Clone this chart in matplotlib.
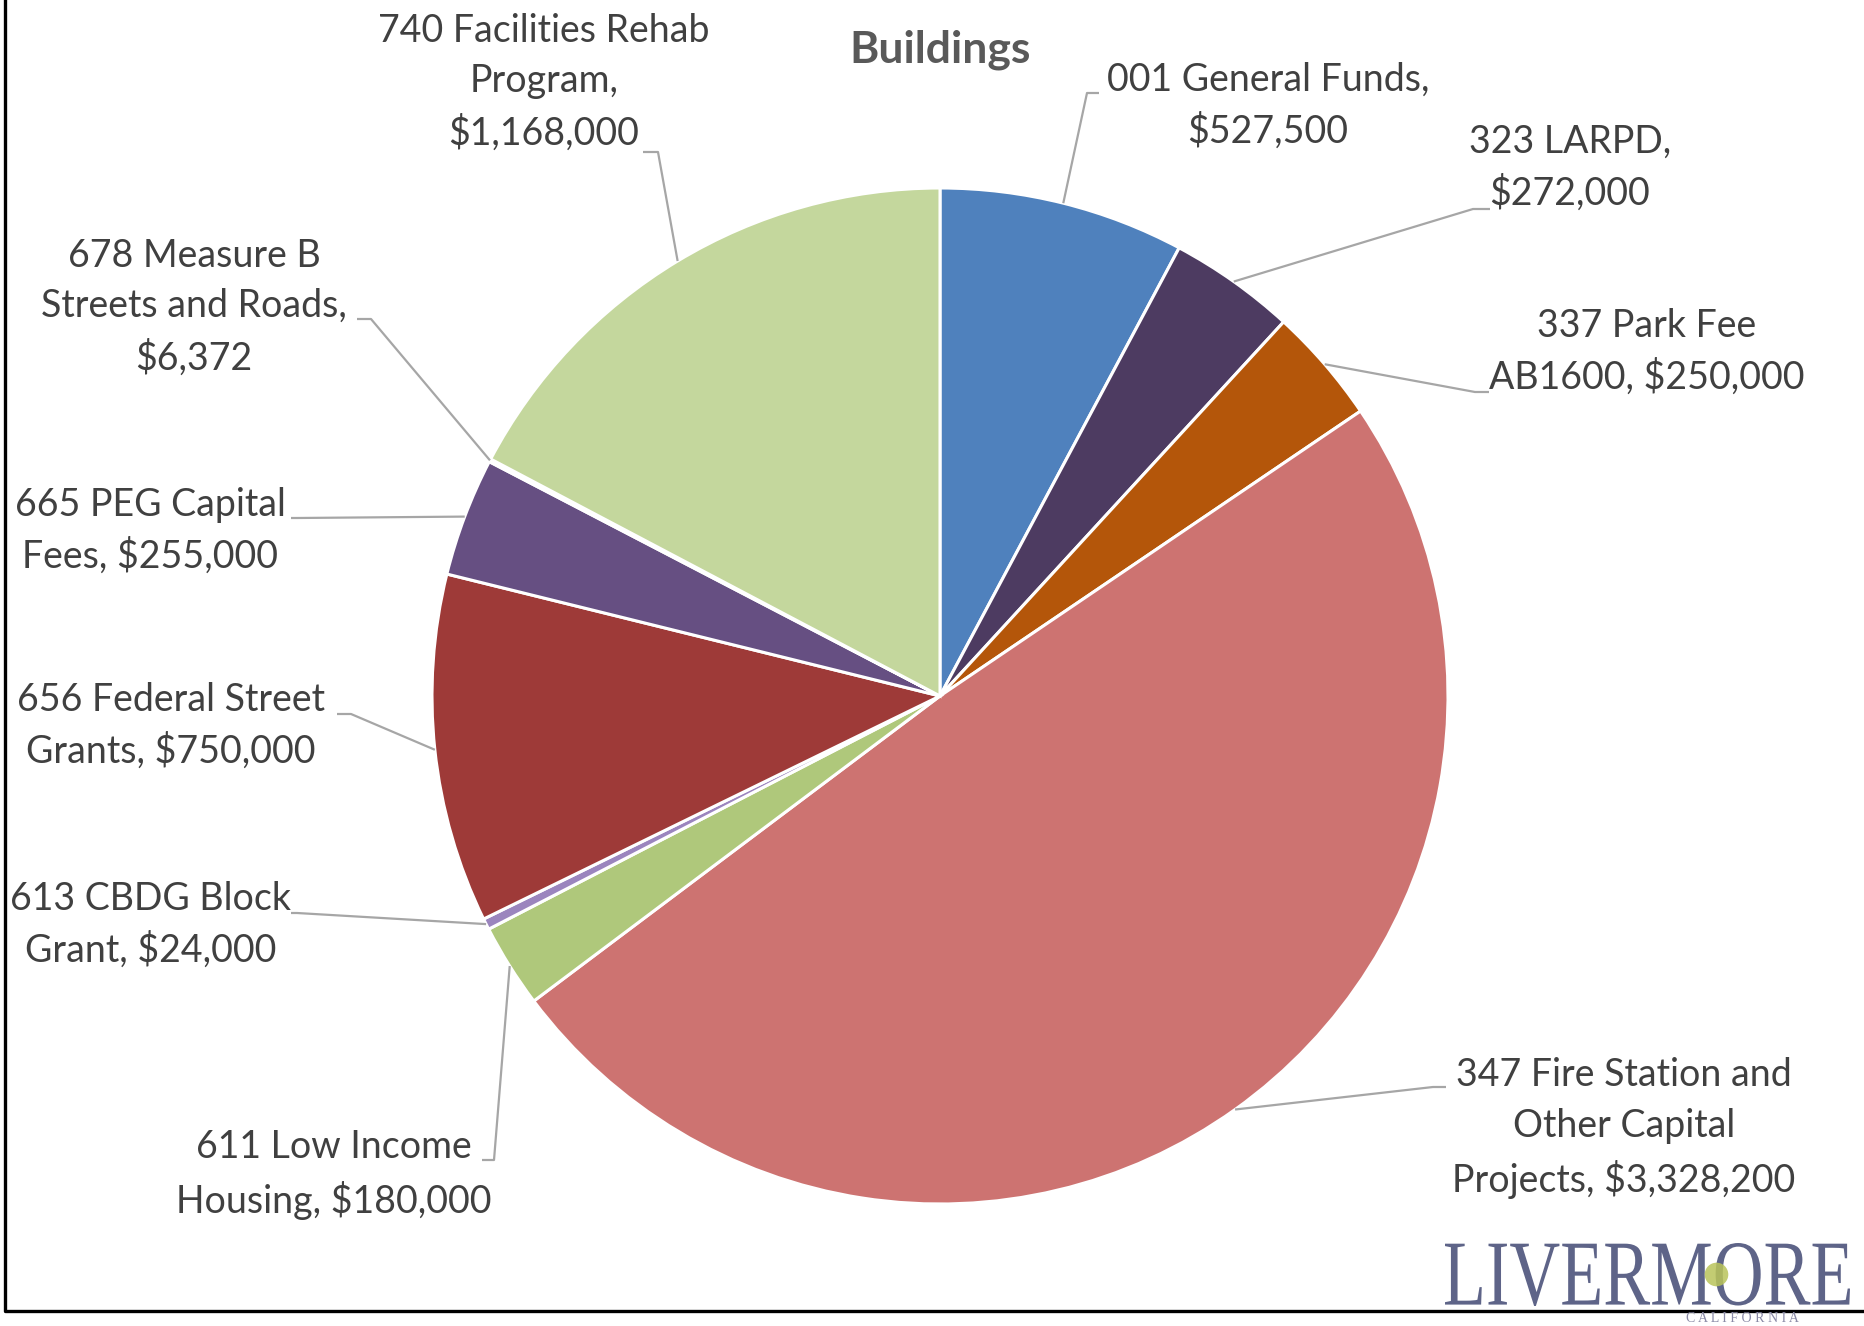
import matplotlib.pyplot as plt
import numpy as np
from matplotlib.textpath import TextPath
from matplotlib.patches import PathPatch
from matplotlib.font_manager import FontProperties
from matplotlib.transforms import Affine2D

# fund sources, clockwise from 12 o'clock
funds = [
    "001 General Funds,\n$527,500",
    "323 LARPD,\n$272,000",
    "337 Park Fee\nAB1600, $250,000",
    "347 Fire Station and\nOther Capital\nProjects, $3,328,200",
    "611 Low Income\nHousing, $180,000",
    "613 CBDG Block\nGrant, $24,000",
    "656 Federal Street\nGrants, $750,000",
    "665 PEG Capital\nFees, $255,000",
    "678 Measure B\nStreets and Roads,\n$6,372",
    "740 Facilities Rehab\nProgram,\n$1,168,000",
]
amounts = [527500, 272000, 250000, 3328200, 180000, 24000, 750000, 255000, 6372, 1168000]
colors = ["#4F81BD", "#4D3B61", "#B4560A", "#CD7371", "#AFC87B",
          "#9B85BE", "#9E3A38", "#664F82", "#7F7F7F", "#C4D79D"]

W, H = 1865, 1326
# label layout in pixels (top-left origin): text centre, end of leader at the text, elbow
label_xy = [(1268, 106), (1570, 168), (1647, 352), (1624, 1128), (334, 1175),
            (151, 925), (171, 726), (150, 531), (194, 307), (544, 82)]
leader_start = [(1099, 93), (1490, 209), (1489, 392), (1446, 1087), (482, 1160),
                (291, 913), (337, 714), (291, 518), (357, 319), (643, 152)]
leader_elbow = [(1087, 93), (1473, 209), (1475, 392), (1433, 1087), (494, 1160),
                (297, 913), (351, 714), (297, 518), (371, 319), (658, 152)]

cx, cy, R = 940, 696, 508

plt.rcParams["font.family"] = ["Lato", "DejaVu Sans"]

fig = plt.figure(figsize=(W / 100, H / 100), dpi=100)
ax = fig.add_axes([0, 0, 1, 1])

wedges, _ = ax.pie(amounts, colors=colors, startangle=90, counterclock=False,
                   center=(cx, H - cy), radius=R,
                   wedgeprops=dict(edgecolor="white", linewidth=2.2))
ax.set_xlim(0, W)
ax.set_ylim(0, H)
ax.set_aspect("equal")
ax.axis("off")

for i, w in enumerate(wedges):
    mid = np.deg2rad((w.theta1 + w.theta2) / 2)
    ex = cx + R * np.cos(mid)
    ey = (H - cy) + R * np.sin(mid)
    sx, sy = leader_start[i]
    bx, by = leader_elbow[i]
    ax.plot([sx, bx, ex], [H - sy, H - by, ey], color="#A6A6A6", lw=1.6,
            solid_capstyle="butt", zorder=3)
    tx, ty = label_xy[i]
    ax.text(tx, H - ty, funds[i], ha="center", va="center", multialignment="center",
            fontsize=27, color="#404040", linespacing=1.5)

ax.text(940, H - 50, "Buildings", ha="center", va="center", fontsize=32,
        fontweight="bold", color="#595959")

# city logo, letters stretched tall like the original wordmark
tp = TextPath((0, 0), "LIVERMORE", size=100, prop=FontProperties(family="Liberation Serif"))
bb = tp.get_extents()
sxl = (1850 - 1445) / bb.width
syl = 63 / bb.height
logo_tf = Affine2D().translate(-bb.x0, -bb.y0).scale(sxl, syl).translate(1445, H - 1306)
ax.add_patch(PathPatch(logo_tf.transform_path(tp), facecolor="#5E6488", edgecolor="none"))
ax.plot([1716], [H - 1274], "o", ms=17, color="#B9C45A", alpha=0.85, mec="none")
ax.text(1742, H - 1318, "C A L I F O R N I A", ha="center", va="center", fontsize=10,
        family="Liberation Serif", color="#8A8AA6")

# frame
ax.plot([5, 5, W], [H, H - 1311, H - 1311], color="black", lw=2.4, clip_on=False)

fig.savefig("out.png", dpi=100)
